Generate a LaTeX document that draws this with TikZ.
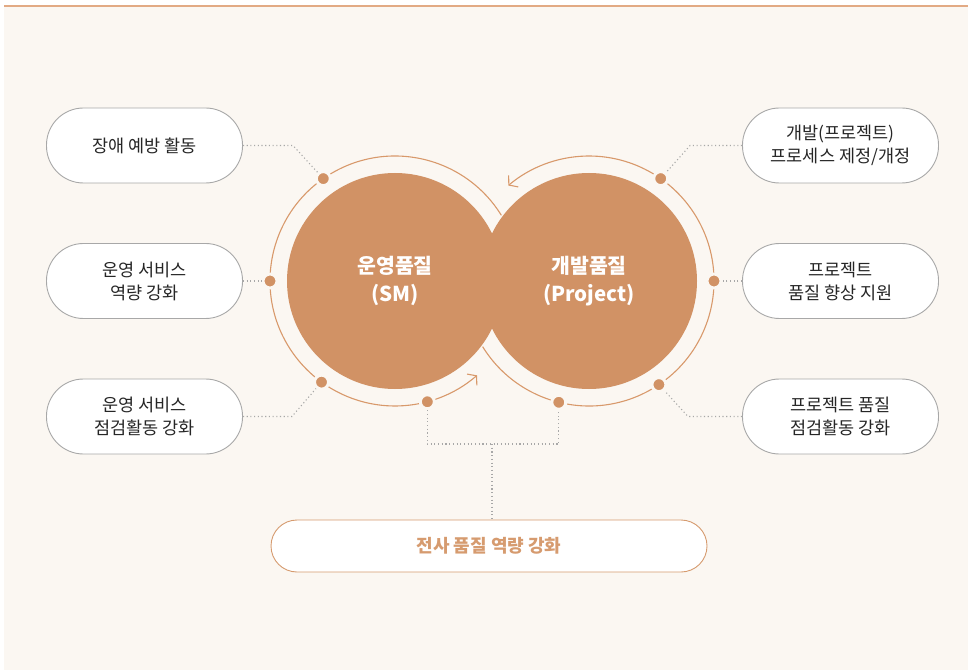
\documentclass[tikz,border=0pt]{standalone}
\usepackage{fontspec}
\setmainfont{Noto Sans CJK KR}
\usetikzlibrary{arrows.meta}

\definecolor{cream}{HTML}{FBF7F2}
\definecolor{copper}{HTML}{D19265}
\definecolor{ringc}{HTML}{D8996B}
\definecolor{edge}{HTML}{A8A8A8}
\definecolor{topline}{HTML}{E2AA84}
\definecolor{ink}{HTML}{262626}
\definecolor{botc}{HTML}{D69B6F}

\tikzset{
  pill/.style={draw=edge, line width=0.9pt, fill=white, rounded corners=37pt,
    minimum width=196pt, minimum height=75pt, inner sep=0pt, align=center,
    text=ink, font=\fontsize{17.5}{23}\selectfont},
  wide/.style={pill, draw=botc, minimum width=436pt, minimum height=52pt,
    rounded corners=26pt, text=botc, font=\bfseries\fontsize{18}{20}\selectfont},
  ring/.style={draw=ringc, line width=1.1pt},
  tip/.style={-{Straight Barb[length=6pt,width=15pt]}},
  spot/.style={circle, fill=copper, draw=cream, line width=3pt, minimum size=14pt, inner sep=0pt},
  link/.style={draw=edge, line width=1.1pt, dash pattern=on 1.1pt off 2.6pt},
  core/.style={text=white, align=center, font=\bfseries\fontsize{20.5}{28}\selectfont},
}

\begin{document}
\begin{tikzpicture}[x=1pt, y=1pt]

  \def\rg{125};
  \def\rc{108};

  \useasboundingbox (0,0) rectangle (968,670);
  \fill[cream] (4,0) rectangle (968,664);
  \draw[topline, line width=2pt] (4,664) -- (968,664);

  \coordinate (lc) at (395,389);
  \coordinate (rc) at (589,389);

	%rings
  \draw[ring,tip] ([shift={(31.7:\rg)}]lc) arc[start angle=31.7, end angle=311, radius=\rg];
  \draw[ring,tip] ([shift={(-148.3:\rg)}]rc) arc[start angle=-148.3, end angle=130.2, radius=\rg];

  \fill[copper] (lc) circle[radius=\rc];
  \fill[copper] (rc) circle[radius=\rc];

  \node[core] (sm) at (lc) {운영품질\\(SM)};
  \node[core] (pj) at (rc) {개발품질\\(Project)};

    \foreach \a/\name in {125/d1,180/d2,234/d3,285/d4}{
         \node[spot] (\name) at ([shift={(\a:\rg)}]lc) {};
    }
    \foreach \a/\name in {55/e1,0/e2,-56/e3,-104/e4}{
         \node[spot] (\name) at ([shift={(\a:\rg)}]rc) {};
    }

	%boxes
    \foreach \y/\txt/\name in {524.5/{장애 예방 활동}/l1, 389/{운영 서비스\\역량 강화}/l2, 253.5/{운영 서비스\\점검활동 강화}/l3}{
         \node[pill] (\name) at (144.5,\y) {\txt};
    }
    \foreach \y/\txt/\name in {524.5/{개발(프로젝트)\\프로세스 제정/개정}/r1, 389/{프로젝트\\품질 향상 지원}/r2, 253.5/{프로젝트 품질\\점검활동 강화}/r3}{
         \node[pill] (\name) at (840.5,\y) {\txt};
    }

  \node[wide] (all) at (489,124) {전사 품질 역량 강화};

	%links
  \draw[link] (l1.east) -- ++(50,0) -- (d1);
  \draw[link] (l2) -- (d2);
  \draw[link] (l3.east) -- ++(49,0) -- (d3);
  \draw[link] (r1.west) -- ++(-52,0) -- (e1);
  \draw[link] (r2) -- (e2);
  \draw[link] (r3.west) -- ++(-54,0) -- (e3);

  \coordinate (jn) at (492,226);
  \draw[link] (d4) -- (d4 |- jn) -- (e4 |- jn) -- (e4);
  \draw[link] (jn) -- (jn |- all.north);

\end{tikzpicture}
\end{document}
